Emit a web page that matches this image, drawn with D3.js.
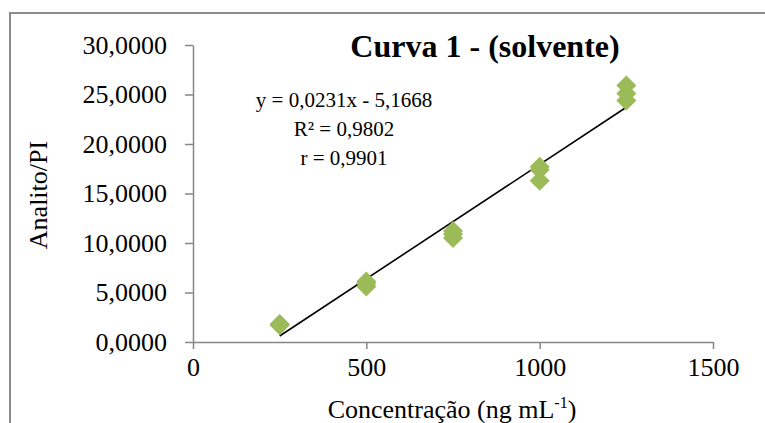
<!DOCTYPE html>
<html>
<head>
<meta charset="utf-8">
<script src="https://cdn.jsdelivr.net/npm/d3@7"></script>
<style>
  body { margin: 0; background: #fff; }
  svg { display: block; font-family: "Liberation Serif", "Times New Roman", serif; }
</style>
</head>
<body>
<svg id="chart" width="765" height="423"></svg>
<script>
// concentrations (ng/mL) and the analyte / IS ratio
var concentrations = [250, 250, 250, 500, 500, 500, 750, 750, 750, 1000, 1000, 1000, 1250, 1250, 1250]
var ratios = [1.8, 1.8, 1.7, 6.1, 5.9, 5.6, 11.2, 10.9, 10.5, 17.7, 17.4, 16.3, 25.9, 25.1, 24.4]
var xTicks = [0, 500, 1000, 1500]
var yTicks = [0, 5, 10, 15, 20, 25, 30]
var slope = 0.0231
var intercept = -5.1668
var eqLines = ['y = 0,0231x - 5,1668', 'R² = 0,9802', 'r = 0,9901']

var width = 765
var height = 423
var margin = {top: 45, bottom: 81, left: 193, right: 52}

var svg = d3.select('#chart')

// outer frame, cut by the picture on the right and bottom
svg.append('rect')
    .attr('x', 10).attr('y', 13)
    .attr('width', 800).attr('height', 500)
    .attr('fill', 'none')
    .attr('stroke', '#8c8c8c')
    .attr('stroke-width', 2)

var xScale = d3.scaleLinear()
    .domain([0, 1500])
    .range([margin.left, width - margin.right])
var yScale = d3.scaleLinear()
    .domain([0, 30])
    .range([height - margin.bottom, margin.top])

var br = d3.formatLocale({decimal: ',', thousands: '.', grouping: [3], currency: ['', '']})

var xAxis = svg.append('g')
    .attr('transform', `translate(0,${yScale(0)})`)
    .call(d3.axisBottom(xScale).tickValues(xTicks).tickSize(7).tickSizeOuter(0).tickPadding(9).tickFormat(d3.format('d')))
var yAxis = svg.append('g')
    .attr('transform', `translate(${xScale(0)},0)`)
    .call(d3.axisLeft(yScale).tickValues(yTicks).tickSize(8).tickSizeOuter(0).tickPadding(18).tickFormat(br.format('.4f')))

svg.selectAll('.domain, .tick line').attr('stroke', '#868686').attr('stroke-width', 1.5)
svg.selectAll('.tick text').attr('font-size', 26).attr('fill', '#000')
    .attr('font-family', '"Liberation Serif", serif')

// regression line across the measured range
var x0 = d3.min(concentrations), x1 = d3.max(concentrations)
svg.append('line')
    .attr('x1', xScale(x0)).attr('y1', yScale(slope * x0 + intercept))
    .attr('x2', xScale(x1)).attr('y2', yScale(slope * x1 + intercept))
    .attr('stroke', '#000')
    .attr('stroke-width', 1.6)

// diamond markers
var diamond = d3.symbol().type(d3.symbolSquare).size(200)
svg.append('g').selectAll('path')
    .data(concentrations)
    .enter().append('path')
    .attr('d', diamond)
    .attr('transform', (d, i) => `translate(${xScale(d)},${yScale(ratios[i])}) rotate(45)`)
    .attr('fill', '#9bbb59')

// title
svg.append('text')
    .attr('x', 485).attr('y', 57)
    .attr('text-anchor', 'middle')
    .attr('font-size', 32)
    .attr('font-weight', 'bold')
    .text('Curva 1 - (solvente)')

// equation box
svg.append('g').selectAll('text')
    .data(eqLines)
    .enter().append('text')
    .attr('x', 344)
    .attr('y', (d, i) => 107 + i * 29)
    .attr('text-anchor', 'middle')
    .attr('font-size', 21)
    .text(d => d)

// axis titles
svg.append('text')
    .attr('transform', `translate(47,195) rotate(-90)`)
    .attr('text-anchor', 'middle')
    .attr('font-size', 26)
    .text('Analito/PI')

var xt = svg.append('text')
    .attr('x', 452).attr('y', 418)
    .attr('text-anchor', 'middle')
    .attr('font-size', 26)
xt.append('tspan').text('Concentração (ng mL')
xt.append('tspan').attr('font-size', 16).attr('dy', -10).text('-1')
xt.append('tspan').attr('dy', 10).text(')')
</script>
</body>
</html>
